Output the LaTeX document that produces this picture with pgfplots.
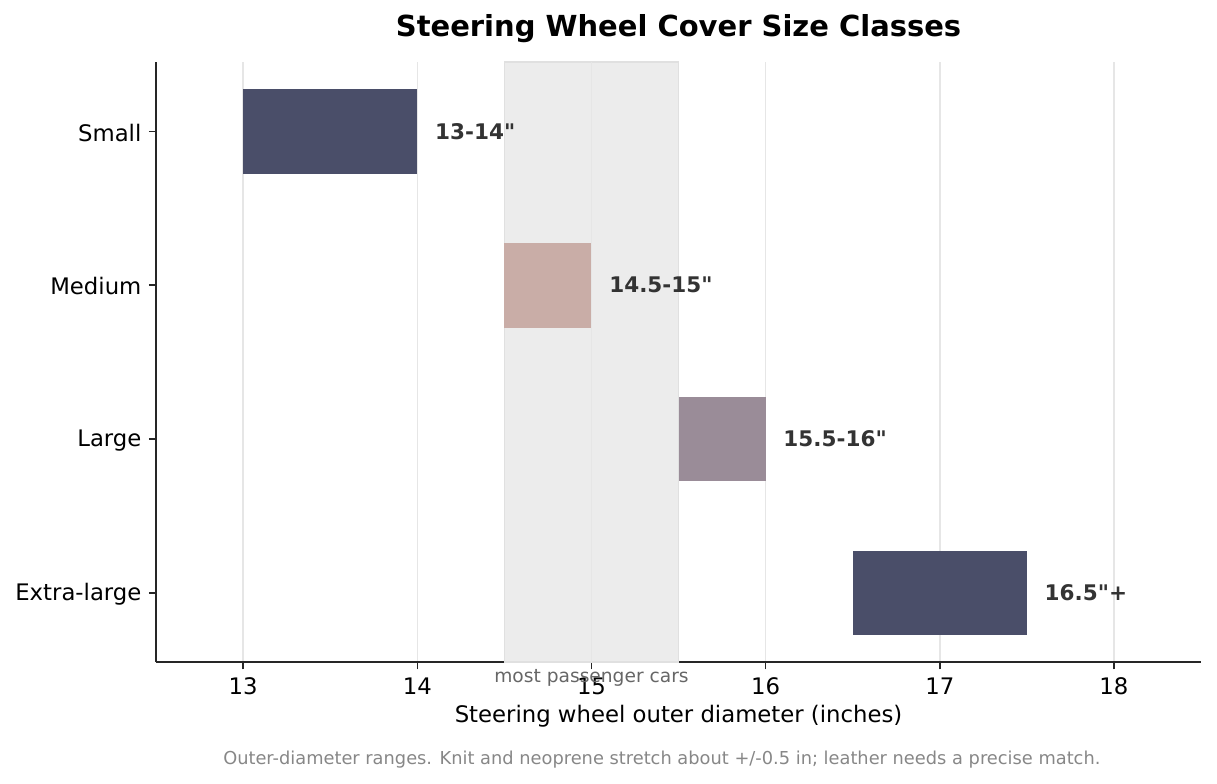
\documentclass[border=0pt]{standalone}
\usepackage{pgfplots}
\pgfplotsset{compat=1.18}
\usepackage{fontspec}
\setmainfont{DejaVu Sans}[Ligatures=TeXOff]
\definecolor{navy}{HTML}{4A4E69}
\definecolor{rose}{HTML}{C9ADA7}
\definecolor{mauve}{HTML}{9A8C98}
\definecolor{spine}{HTML}{262626}
\definecolor{gridc}{HTML}{E6E6E6}
\definecolor{lbl}{HTML}{333333}
\definecolor{band}{HTML}{ECECEC}
\definecolor{bandedge}{HTML}{E0E0E0}
\newcommand{\tk}{\fontsize{11}{13}\selectfont}
\begin{document}
\begin{tikzpicture}
	% fix page size to the reference proportions
	\path[use as bounding box] (-75.4pt,-58.5pt) rectangle (512.5pt,319.9pt);
	\begin{axis}[
	scale only axis,
	width=504.8pt, height=289.9pt,
	xmin=12.5, xmax=18.5,
	ymin=-0.45, ymax=3.45,
	clip=false,
	axis x line*=bottom,
	axis y line*=left,
	axis line style={-, spine, line width=0.8pt},
	tick style={spine, line width=0.8pt},
	tick align=outside,
	major tick length=3.5pt,
	xtick={13,14,15,16,17,18},
	ytick={0,1,2,3},
	yticklabels={Extra-large,Large,Medium,Small},
	/pgf/number format/assume math mode=true,
	ticklabel style={font=\tk, inner sep=0pt},
	xticklabel style={anchor=north, yshift=-3.8pt},
	yticklabel style={anchor=east, xshift=-3.4pt, yshift=-0.6pt},
	xmajorgrids,
	major grid style={gridc, line width=0.8pt},
	]
		% shaded band: most passenger cars
		\addplot [draw=bandedge, fill=band, line width=0.8pt] coordinates {
			(14.5,-0.45) (15.5,-0.45) (15.5,3.45) (14.5,3.45) (14.5,-0.45)
		};
		% grid line at 15 shows through the band
		\addplot [gridc, line width=0.8pt] coordinates {(15,-0.45) (15,3.45)};
		% bars: start, end, position
		\addplot [fill=navy, draw=none] coordinates {(13,2.725) (14,2.725) (14,3.275) (13,3.275)};
		\addplot [fill=rose, draw=none] coordinates {(14.5,1.725) (15,1.725) (15,2.275) (14.5,2.275)};
		\addplot [fill=mauve, draw=none] coordinates {(15.5,0.725) (16,0.725) (16,1.275) (15.5,1.275)};
		\addplot [fill=navy, draw=none] coordinates {(16.5,-0.275) (17.5,-0.275) (17.5,0.275) (16.5,0.275)};

		\begin{scope}[every node/.style={anchor=west, inner sep=0pt, text=lbl, font=\fontsize{10.4}{12}\selectfont\bfseries}]
			\node at (axis cs:14.1,3) {13-14"};
			\node at (axis cs:15.1,2) {14.5-15"};
			\node at (axis cs:16.1,1) {15.5-16"};
			\node at (axis cs:17.6,0) {16.5"+};
		\end{scope}

		\node[text=black!60, font=\fontsize{9}{11}\selectfont, inner sep=0pt] at ([yshift=-7.7pt]axis cs:15,-0.45) {most passenger cars};
		\node[font=\fontsize{14}{17}\selectfont\bfseries, inner sep=0pt] at ([yshift=16.4pt]rel axis cs:0.5,1) {Steering Wheel Cover Size Classes};
		\node[font=\tk, inner sep=0pt] at ([yshift=-26.1pt]rel axis cs:0.5,0) {Steering wheel outer diameter (inches)};
		\node[text=black!47, font=\fontsize{8.6}{10}\selectfont, inner sep=0pt] at ([yshift=-47pt]rel axis cs:0.484,0) {Outer-diameter ranges. Knit and neoprene stretch about +/-0.5 in; leather needs a precise match.};
	\end{axis}
\end{tikzpicture}
\end{document}
